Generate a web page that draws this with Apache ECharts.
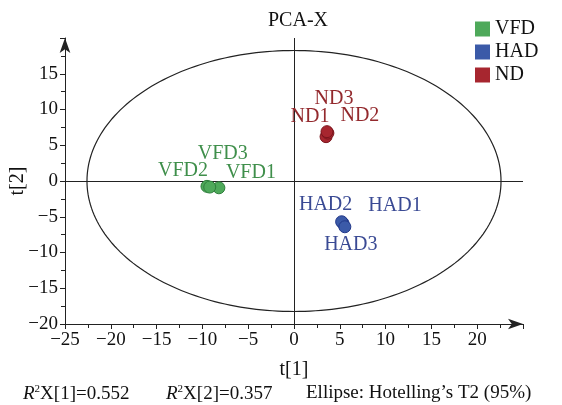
<!DOCTYPE html>
<html>
<head>
<meta charset="utf-8">
<script src="https://cdn.jsdelivr.net/npm/echarts@6/dist/echarts.min.js"></script>
<style>
  html, body { margin: 0; padding: 0; background: #fff; }
  #chart { width: 562px; height: 405px; }
</style>
</head>
<body>
<div id="chart"></div>
<script>
// PCA-X score plot: t[1] vs t[2] for three diet groups
const groups = ['VFD', 'HAD', 'ND'];

const vfdNames = ['VFD1', 'VFD2', 'VFD3'];
const vfdT1 = [-8.2, -9.5, -9.2];
const vfdT2 = [-0.95, -0.75, -0.85];

const hadNames = ['HAD1', 'HAD2', 'HAD3'];
const hadT1 = [5.35, 5.2, 5.55];
const hadT2 = [-5.9, -5.7, -6.4];

const ndNames = ['ND1', 'ND2', 'ND3'];
const ndT1 = [3.5, 3.7, 3.6];
const ndT2 = [6.2, 6.7, 6.9];

// Hotelling's T2 (95%) ellipse semi-axes
const ellipseT1 = 22.6;
const ellipseT2 = 18.25;

const captionParts = ['{i|R}{s|2}X[1]=0.552', '{i|R}{s|2}X[2]=0.357', 'Ellipse: Hotelling\u2019s T2 (95%)'];

const xTickMin = -25, xTickMax = 25, yTickMin = -20, yTickMax = 20, tickStep = 5;

// label placement around each point (pixels)
const labelOffsets = {
  VFD1: [32, -15], VFD2: [-24, -16], VFD3: [13, -33],
  HAD1: [52, -17], HAD2: [-16, -17], HAD3: [6, 18],
  ND1: [-16, -20], ND2: [32, -17], ND3: [7, -33]
};

const colors = { VFD: '#4ea95a', HAD: '#3b5aa8', ND: '#a7262f' };
const edgeColors = { VFD: '#2f7f3c', HAD: '#23398a', ND: '#7a141c' };
const labelColors = { VFD: '#3f8f4b', HAD: '#3a4a94', ND: '#93292d' };

const FONT = "'Liberation Serif', 'Times New Roman', serif";
const AXIS_COLOR = '#222';

function minusFmt(v) {
  return v < 0 ? '\u2212' + Math.abs(v) : String(v);
}

function buildPoints(names, t1, t2) {
  return names.map((n, i) => ({ name: n, value: [t1[i], t2[i]] }));
}

function scatterSeries(group, names, t1, t2) {
  return {
    name: group,
    type: 'scatter',
    z: 5,
    symbol: 'circle',
    symbolSize: 12,
    itemStyle: { color: colors[group], borderColor: edgeColors[group], borderWidth: 1, opacity: 1 },
    label: {
      show: true,
      position: 'inside',
      formatter: '{b}',
      color: labelColors[group],
      fontFamily: FONT,
      fontSize: 20
    },
    labelLayout: params => {
      const off = labelOffsets[names[params.dataIndex]];
      return { dx: off[0], dy: off[1], hideOverlap: false };
    },
    emphasis: { disabled: true },
    data: buildPoints(names, t1, t2)
  };
}

const chart = echarts.init(document.getElementById('chart'), null, { renderer: 'canvas' });

chart.setOption({
  animation: false,
  backgroundColor: '#fff',
  textStyle: { fontFamily: FONT },
  title: {
    text: 'PCA-X',
    left: 293,
    textAlign: 'center',
    top: 6,
    textStyle: { fontFamily: FONT, fontSize: 20, fontWeight: 'normal', color: '#111' }
  },
  legend: {
    data: groups,
    orient: 'vertical',
    left: 475,
    top: 19,
    padding: 0,
    icon: 'rect',
    itemWidth: 15,
    itemHeight: 15,
    itemGap: 3,
    itemStyle: { borderWidth: 0, opacity: 1 },
    textStyle: { fontFamily: FONT, fontSize: 20, color: '#111' },
    selectedMode: false
  },
  grid: { left: 65, right: 39, top: 38, bottom: 81, containLabel: false, outerBoundsMode: 'none' },
  xAxis: {
    type: 'value',
    min: xTickMin,
    max: xTickMax,
    interval: tickStep,
    name: 't[1]',
    nameLocation: 'middle',
    nameGap: 36,
    nameTextStyle: { fontFamily: FONT, fontSize: 20, color: '#111' },
    axisLine: {
      onZero: false,
      symbol: ['none', 'arrow'],
      symbolSize: [8, 15],
      lineStyle: { color: AXIS_COLOR, width: 1 }
    },
    axisTick: { show: true, length: 5, lineStyle: { color: AXIS_COLOR } },
    minorTick: { show: true, splitNumber: 2, length: 4, lineStyle: { color: AXIS_COLOR } },
    splitLine: { show: false },
    axisLabel: {
      margin: 7,
      fontFamily: FONT,
      fontSize: 19,
      color: '#111',
      formatter: v => (v === xTickMax ? '' : minusFmt(v))
    }
  },
  yAxis: {
    type: 'value',
    min: yTickMin,
    max: yTickMax,
    interval: tickStep,
    name: 't[2]',
    nameLocation: 'middle',
    nameGap: 37,
    nameMoveOverlap: false,
    nameTextStyle: { fontFamily: FONT, fontSize: 20, color: '#111' },
    axisLine: {
      onZero: false,
      symbol: ['none', 'arrow'],
      symbolSize: [8, 15],
      lineStyle: { color: AXIS_COLOR, width: 1 }
    },
    axisTick: { show: true, length: 5, lineStyle: { color: AXIS_COLOR } },
    minorTick: { show: true, splitNumber: 2, length: 4, lineStyle: { color: AXIS_COLOR } },
    splitLine: { show: false },
    axisLabel: {
      margin: 7,
      fontFamily: FONT,
      fontSize: 19,
      color: '#111',
      formatter: v => (v === yTickMax ? '' : minusFmt(v))
    }
  },
  graphic: captionParts.map((txt, i) => ({
    type: 'text',
    left: [23, 166, 306][i],
    top: 384,
    style: {
      text: txt,
      fontFamily: FONT,
      fontSize: 19,
      fill: '#111',
      rich: {
        i: { fontFamily: FONT, fontSize: 19, fontStyle: 'italic', fill: '#111', lineHeight: 20 },
        s: { fontFamily: FONT, fontSize: 11, fill: '#111', lineHeight: 20, verticalAlign: 'top', padding: [0, 0, 6, 0] }
      }
    }
  })),
  series: [
    {
      // confidence ellipse and zero reference lines
      type: 'custom',
      z: 1,
      silent: true,
      coordinateSystem: 'cartesian2d',
      data: [[0, 0]],
      renderItem: (params, api) => {
        const pts = [];
        const n = 240;
        for (let k = 0; k <= n; k++) {
          const a = (k / n) * Math.PI * 2;
          pts.push(api.coord([ellipseT1 * Math.cos(a), ellipseT2 * Math.sin(a)]));
        }
        return {
          type: 'polyline',
          shape: { points: pts },
          style: { stroke: AXIS_COLOR, fill: null, lineWidth: 1.2 }
        };
      },
      markLine: {
        silent: true,
        symbol: 'none',
        label: { show: false },
        lineStyle: { color: AXIS_COLOR, type: 'solid', width: 1 },
        data: [{ xAxis: 0 }, { yAxis: 0 }]
      }
    },
    scatterSeries('VFD', vfdNames, vfdT1, vfdT2),
    scatterSeries('HAD', hadNames, hadT1, hadT2),
    scatterSeries('ND', ndNames, ndT1, ndT2)
  ]
});
</script>
</body>
</html>
